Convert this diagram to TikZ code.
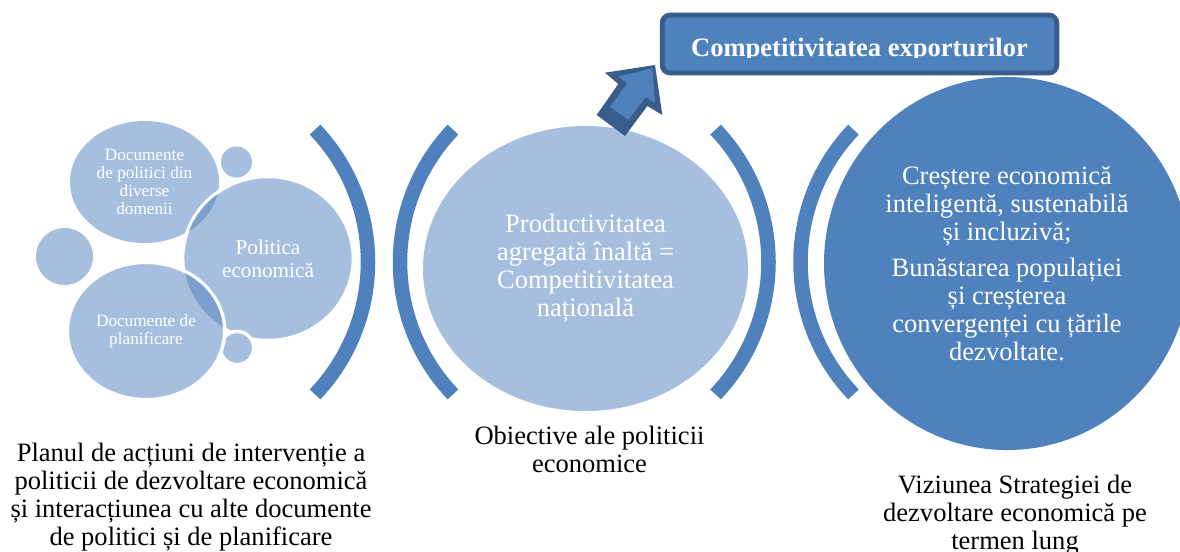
\documentclass[tikz,border=0pt]{standalone}
\usepackage{fontspec}
\setmainfont{Liberation Serif}
\usetikzlibrary{shapes.geometric}
\definecolor{lightblue}{HTML}{A7BFDE}
\definecolor{midblue}{HTML}{7BA0CD}
\definecolor{mainblue}{HTML}{4F81BD}
\definecolor{darkblue}{HTML}{385D8A}
\begin{document}
\begin{tikzpicture}[x=0.75pt, y=-0.75pt,
   blob/.style={ellipse, fill=lightblue, text=white, align=center, inner sep=0pt},
   halo/.style={draw=white, line width=2.6pt},
   small/.style={font=\fontsize{12.9}{13.5}\selectfont},
   medium/.style={font=\fontsize{15.9}{17.2}\selectfont},
   large/.style={font=\fontsize{19.9}{21}\selectfont},
   caption/.style={large, align=center, inner sep=0pt},
   bracket/.style={draw=mainblue, line width=10.9pt}]
   \useasboundingbox (0,0) rectangle (1180,551);
   \node (docs) at (144.5,182) [blob, small, minimum width=111.8pt, minimum height=91.5pt] {Documente\\
de politici din\\
diverse\\
domenii};
   \node (dotleft) at (64.5,256.5) [blob, minimum size=42.8pt] {};
   \node (dottop) at (236.5,162) [blob, minimum size=23.3pt] {};
   \node (policy) at (268,258.5) [blob, halo, medium, minimum width=128pt, minimum height=123pt] {Politica\\
economică};
   \begin{scope}
      \clip (docs.center) ellipse (74.5 and 61);
      \fill [midblue] (policy.center) ellipse (84 and 80.5);
   \end{scope}
   \node (dotlow) at (237,348) [blob, halo, minimum size=25pt] {};
   \node (plans) at (146,331) [blob, halo, small, minimum width=118pt, minimum height=103pt] {Documente de\\
planificare};
   \begin{scope}
      \clip (plans.center) ellipse (77 and 67);
      \fill [midblue] (policy.center) ellipse (84 and 80.5);
   \end{scope}
   \node (goal) at (585.5,268.5) [blob, large, minimum width=243.8pt, minimum height=213.8pt] {Productivitatea\\
agregată înaltă =\\
Competitivitatea\\
națională};
   \node (vision) at (1007,263.5) [blob, large, fill=mainblue, minimum width=274.5pt, minimum height=279.8pt] {Creștere economică\\
inteligentă, sustenabilă\\
și incluzivă;\\[6.5pt]
Bunăstarea populației\\
și creșterea\\
convergenței cu țările\\
dezvoltate.};
   \coordinate (bracketA) at (176,262);
   \coordinate (bracketB) at (592,262);
   \coordinate (bracketC) at (576.5,262);
   \coordinate (bracketD) at (992.5,262);
   \draw [bracket] (bracketA) ++(-43.6:192) arc [start angle=-43.6, end angle=43.6, radius=192];
   \draw [bracket] (bracketB) ++(136.4:192) arc [start angle=136.4, end angle=223.6, radius=192];
   \draw [bracket] (bracketC) ++(-43.6:192) arc [start angle=-43.6, end angle=43.6, radius=192];
   \draw [bracket] (bracketD) ++(136.4:192) arc [start angle=136.4, end angle=223.6, radius=192];
   \fill [darkblue] (655,65) -- (605,72.7) -- (618.3,84) -- (596.7,115) -- (625,136) -- (647.3,106) -- (662.3,115) -- cycle;
   \fill [mainblue] (652.3,68.3) -- (618.3,76.7) -- (627.3,83.3) -- (610,106.7) -- (628.3,120) -- (646,96.7) -- (655,102.7) -- cycle;
   \node (export) at (859.5,44) [rectangle, rounded corners=6pt, draw=darkblue, line width=3.6pt, fill=mainblue, minimum width=296pt, minimum height=43.5pt] {};
   \begin{scope}
      \clip (660,13) rectangle (1059,57.5);
      \node (exportlabel) at (859.5,56) [anchor=base, text=white, font=\fontsize{19.9}{21}\selectfont\bfseries, inner sep=0pt] {Competitivitatea exporturilor};
   \end{scope}
   \node (capplan) at (191,497) [caption] {Planul de acțiuni de intervenție a\\
politicii de dezvoltare economică\\
și interacțiunea cu alte documente\\
de politici și de planificare};
   \node (capgoal) at (589.5,449.5) [caption] {Obiective ale politicii\\
economice};
   \node (capvision) at (1015,515.5) [caption] {Viziunea Strategiei de\\
dezvoltare economică pe\\
termen lung};
\end{tikzpicture}
\end{document}
